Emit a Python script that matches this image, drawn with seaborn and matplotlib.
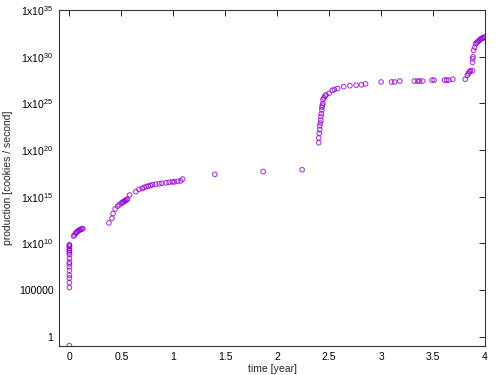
import numpy as np
import pandas as pd
import matplotlib
matplotlib.use('Agg')
import matplotlib.pyplot as plt
import seaborn as sns

# time in years and log10 of production (cookies / second)
time_year = [0.0] * 18 + \
    [0.04, 0.05, 0.06, 0.07, 0.08, 0.09, 0.10, 0.11, 0.12, 0.13] + \
    [0.38, 0.41, 0.42, 0.44, 0.465, 0.48, 0.50, 0.51, 0.52, 0.53, 0.54, 0.55, 0.56, 0.58] + \
    [0.64, 0.67, 0.70, 0.72, 0.74, 0.76, 0.78, 0.80, 0.83, 0.865, 0.89, 0.93, 0.96, 0.99,
     1.01, 1.04, 1.07, 1.09] + \
    [1.40, 1.865, 2.24] + \
    [2.40, 2.40, 2.405, 2.41, 2.41, 2.415, 2.42, 2.42, 2.425, 2.43, 2.43, 2.435, 2.44, 2.44,
     2.45, 2.46, 2.47, 2.50, 2.53, 2.55, 2.58, 2.64, 2.70, 2.76, 2.81, 2.85] + \
    [3.00, 3.10, 3.13, 3.18, 3.32, 3.35, 3.37, 3.40, 3.49, 3.51, 3.61, 3.63, 3.65, 3.69, 3.81] + \
    [3.83, 3.84, 3.85, 3.86, 3.88, 3.88, 3.88, 3.885, 3.89, 3.90, 3.91, 3.92, 3.93, 3.94,
     3.95, 3.96, 3.97, 3.98, 3.99, 4.0]

log_production = [-0.95, 5.28, 5.8, 6.3, 6.6, 7.1, 7.5, 7.8, 8.0, 8.4, 8.8, 9.0, 9.2, 9.3, 9.5,
                  9.7, 9.8, 9.85] + \
    [10.8, 10.9, 11.1, 11.2, 11.3, 11.4, 11.45, 11.5, 11.55, 11.6] + \
    [12.2, 12.7, 13.2, 13.7, 14.0, 14.15, 14.3, 14.4, 14.45, 14.55, 14.6, 14.7, 14.75, 15.2] + \
    [15.56, 15.8, 15.9, 16.0, 16.1, 16.15, 16.2, 16.3, 16.35, 16.4, 16.45, 16.5, 16.55, 16.6,
     16.6, 16.65, 16.7, 16.9] + \
    [17.4, 17.7, 17.9] + \
    [20.8, 21.3, 21.8, 22.2, 22.6, 22.9, 23.2, 23.6, 23.9, 24.3, 24.6, 24.8, 25.0, 25.4,
     25.6, 25.8, 25.9, 26.1, 26.4, 26.5, 26.6, 26.8, 26.9, 26.95, 27.0, 27.1] + \
    [27.3, 27.3, 27.3, 27.4, 27.4, 27.4, 27.4, 27.4, 27.5, 27.5, 27.5, 27.5, 27.5, 27.6, 27.6] + \
    [28.0, 28.2, 28.4, 28.5, 28.5, 29.4, 29.8, 30.0, 30.7, 31.0, 31.4, 31.5, 31.6, 31.7,
     31.8, 31.9, 32.0, 32.0, 32.1, 32.1]

ytick_exp = [0, 5, 10, 15, 20, 25, 30, 35]
ytick_labels = ['1', '100000'] + [r'1x10$^{%d}$' % e for e in ytick_exp[2:]]
xticks = [0, 0.5, 1, 1.5, 2, 2.5, 3, 3.5, 4]
xtick_labels = ['0', '0.5', '1', '1.5', '2', '2.5', '3', '3.5', '4']

df = pd.DataFrame({'time': time_year, 'production': 10.0 ** np.array(log_production)})

sns.set_theme(style='white')
plt.rcParams['font.family'] = ['Liberation Sans', 'DejaVu Sans']
plt.rcParams['mathtext.fontset'] = 'custom'
plt.rcParams['mathtext.rm'] = 'Liberation Sans'

fig = plt.figure(figsize=(5, 3.75), dpi=100)
ax = fig.add_axes([0.118, 0.077, 0.852, 0.896])

sns.scatterplot(data=df, x='time', y='production', ax=ax, marker='o', s=11,
                facecolor='none', edgecolor='#9400d3', linewidth=0.8, alpha=0.75)

ax.set_yscale('log')
ax.set_xlim(-0.1, 4)
ax.set_ylim(0.1, 1e35)
ax.set_yticks([10.0 ** e for e in ytick_exp])
ax.set_yticklabels(ytick_labels)
ax.yaxis.set_minor_locator(matplotlib.ticker.NullLocator())
ax.set_xticks(xticks)
ax.set_xticklabels(xtick_labels)

ax.tick_params(direction='in', length=4, width=0.6, top=True, right=True,
               labelsize=7.5, colors='black', pad=4)
for s in ax.spines.values():
    s.set_linewidth(0.8)
    s.set_color('#333333')

ax.set_xlabel('time [year]', fontsize=7.5, labelpad=2)
ax.set_ylabel('production [cookies / second]', fontsize=7.5, labelpad=4)

fig.savefig('out.png', dpi=100)
